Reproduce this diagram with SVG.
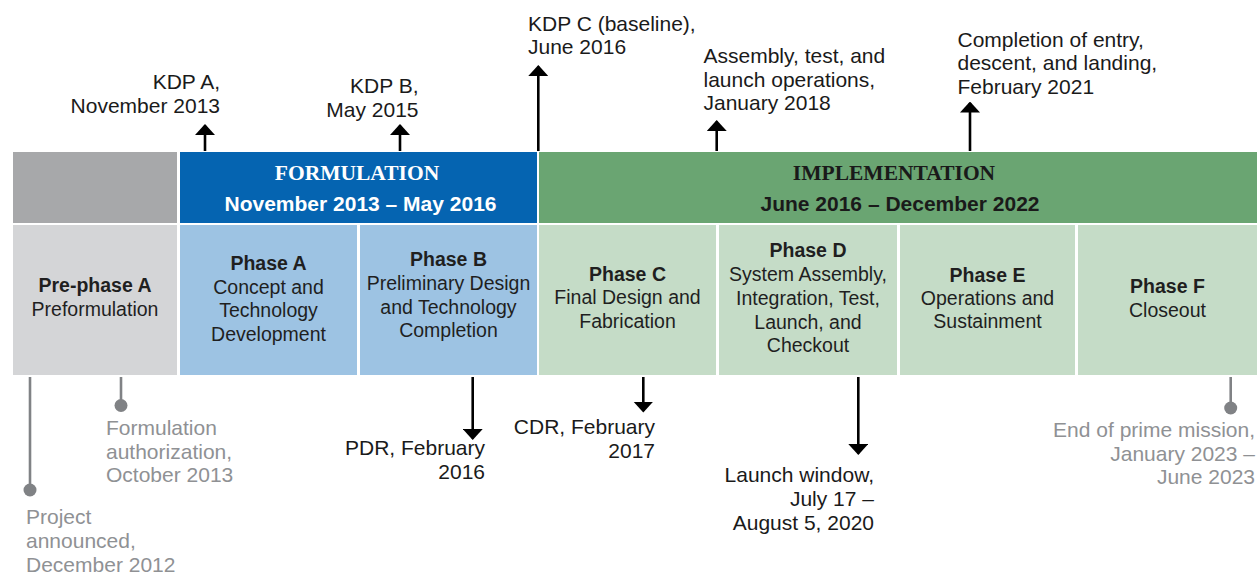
<svg xmlns="http://www.w3.org/2000/svg" width="1259" height="584" viewBox="0 0 1259 584">
<style>
text{font-family:"Liberation Sans",Arial,sans-serif;}
.ph{font-size:19.5px;fill:#1f1f1f;text-anchor:middle;}
.pt{font-weight:bold;}
.an{font-size:21px;fill:#1a1a1a;}
.gr{font-size:21px;fill:#8f9194;}
.hs{font-family:"Liberation Serif","Times New Roman",serif;font-weight:bold;font-size:21.5px;text-anchor:middle;}
.hd{font-weight:bold;font-size:21px;text-anchor:middle;}
.ar{stroke:#000;stroke-width:2.6;fill:none;}
.gl{stroke:#808285;stroke-width:2.6;fill:none;}
</style>
<defs>
<marker id="ah" viewBox="0 0 11 20" markerUnits="userSpaceOnUse" markerWidth="11" markerHeight="20" refX="9.5" refY="10" orient="auto">
<path d="M0,0 L11,10 L0,20 Z" fill="#000"/>
</marker>
</defs>
<rect width="1259" height="584" fill="#fff"/>

<g id="header-pre">
<rect x="13" y="152" width="164" height="71" fill="#a7a8aa"/>
</g>
<g id="header-formulation">
<rect x="180" y="152" width="357" height="71" fill="#0564b1"/>
<text class="hs" x="357" y="180" fill="#fff">FORMULATION</text>
<text class="hd" x="360.5" y="211" fill="#fff">November 2013 – May 2016</text>
</g>
<g id="header-implementation">
<rect x="539" y="152" width="718" height="71" fill="#6aa572"/>
<text class="hs" x="894" y="180" fill="#1a1a1a">IMPLEMENTATION</text>
<text class="hd" x="900" y="211" fill="#1a1a1a">June 2016 – December 2022</text>
</g>

<g id="pre-phase-a">
<rect x="13" y="225" width="164" height="150" fill="#d4d5d7"/>
<text class="ph pt" x="95" y="292">Pre-phase A</text>
<text class="ph" x="95" y="316">Preformulation</text>
</g>
<g id="phase-a">
<rect x="180" y="225" width="177" height="150" fill="#9dc3e3"/>
<text class="ph pt" x="268.5" y="270">Phase A</text>
<text class="ph" x="268.5" y="293.5">Concept and</text>
<text class="ph" x="268.5" y="317">Technology</text>
<text class="ph" x="268.5" y="340.5">Development</text>
</g>
<g id="phase-b">
<rect x="360" y="225" width="177" height="150" fill="#9dc3e3"/>
<text class="ph pt" x="448.5" y="266">Phase B</text>
<text class="ph" x="448.5" y="290">Preliminary Design</text>
<text class="ph" x="448.5" y="313.5">and Technology</text>
<text class="ph" x="448.5" y="337">Completion</text>
</g>
<g id="phase-c">
<rect x="539" y="225" width="177" height="150" fill="#c5dcc7"/>
<text class="ph pt" x="627.5" y="281">Phase C</text>
<text class="ph" x="627.5" y="304">Final Design and</text>
<text class="ph" x="627.5" y="327.5">Fabrication</text>
</g>
<g id="phase-d">
<rect x="719" y="225" width="178" height="150" fill="#c5dcc7"/>
<text class="ph pt" x="808" y="257">Phase D</text>
<text class="ph" x="808" y="281">System Assembly,</text>
<text class="ph" x="808" y="305">Integration, Test,</text>
<text class="ph" x="808" y="328.5">Launch, and</text>
<text class="ph" x="808" y="352">Checkout</text>
</g>
<g id="phase-e">
<rect x="900" y="225" width="175" height="150" fill="#c5dcc7"/>
<text class="ph pt" x="987.5" y="282">Phase E</text>
<text class="ph" x="987.5" y="305">Operations and</text>
<text class="ph" x="987.5" y="328">Sustainment</text>
</g>
<g id="phase-f">
<rect x="1078" y="225" width="179" height="150" fill="#c5dcc7"/>
<text class="ph pt" x="1167.5" y="293">Phase F</text>
<text class="ph" x="1167.5" y="316.5">Closeout</text>
</g>

<g id="connectors">
<line class="ar" x1="205" y1="151" x2="205" y2="125.5" marker-end="url(#ah)"/>
<line class="ar" x1="400" y1="151" x2="400" y2="125.5" marker-end="url(#ah)"/>
<line class="ar" x1="538.3" y1="151" x2="538.3" y2="66.5" marker-end="url(#ah)"/>
<line class="ar" x1="716.7" y1="151" x2="716.7" y2="121.5" marker-end="url(#ah)"/>
<line class="ar" x1="970" y1="151" x2="970" y2="103" marker-end="url(#ah)"/>
<line class="ar" x1="472.7" y1="377" x2="472.7" y2="438.5" marker-end="url(#ah)"/>
<line class="ar" x1="643.3" y1="377" x2="643.3" y2="411" marker-end="url(#ah)"/>
<line class="ar" x1="858.3" y1="377" x2="858.3" y2="453.5" marker-end="url(#ah)"/>
<line class="gl" x1="30" y1="377" x2="30" y2="490"/>
<circle cx="30" cy="490" r="6.5" fill="#808285"/>
<line class="gl" x1="121" y1="377" x2="121" y2="405"/>
<circle cx="121" cy="405.5" r="6.5" fill="#808285"/>
<line class="gl" x1="1230.7" y1="377" x2="1230.7" y2="408"/>
<circle cx="1230.7" cy="408" r="6.5" fill="#808285"/>
</g>

<g id="kdp-a">
<text class="an" x="220" y="89" text-anchor="end">KDP A,</text>
<text class="an" x="220" y="112.5" text-anchor="end">November 2013</text>
</g>
<g id="kdp-b">
<text class="an" x="418.5" y="93" text-anchor="end">KDP B,</text>
<text class="an" x="418.5" y="116.5" text-anchor="end">May 2015</text>
</g>
<g id="kdp-c">
<text class="an" x="528" y="30.5">KDP C (baseline),</text>
<text class="an" x="528" y="53.5">June 2016</text>
</g>
<g id="atlo">
<text class="an" x="703.5" y="63">Assembly, test, and</text>
<text class="an" x="703.5" y="86.5">launch operations,</text>
<text class="an" x="703.5" y="110">January 2018</text>
</g>
<g id="edl">
<text class="an" x="957.5" y="46.5">Completion of entry,</text>
<text class="an" x="957.5" y="70">descent, and landing,</text>
<text class="an" x="957.5" y="93.5">February 2021</text>
</g>
<g id="pdr">
<text class="an" x="485" y="455" text-anchor="end">PDR, February</text>
<text class="an" x="485" y="478.5" text-anchor="end">2016</text>
</g>
<g id="cdr">
<text class="an" x="655" y="434" text-anchor="end">CDR, February</text>
<text class="an" x="655" y="457.5" text-anchor="end">2017</text>
</g>
<g id="launch">
<text class="an" x="874" y="482" text-anchor="end">Launch window,</text>
<text class="an" x="874" y="505.5" text-anchor="end">July 17 –</text>
<text class="an" x="874" y="529.5" text-anchor="end">August 5, 2020</text>
</g>
<g id="formulation-auth">
<text class="gr" x="106" y="435">Formulation</text>
<text class="gr" x="106" y="458.5">authorization,</text>
<text class="gr" x="106" y="482">October 2013</text>
</g>
<g id="project-announced">
<text class="gr" x="26" y="524">Project</text>
<text class="gr" x="26" y="548">announced,</text>
<text class="gr" x="26" y="572">December 2012</text>
</g>
<g id="end-prime">
<text class="gr" x="1255" y="437" text-anchor="end">End of prime mission,</text>
<text class="gr" x="1255" y="460.5" text-anchor="end">January 2023 –</text>
<text class="gr" x="1255" y="484" text-anchor="end">June 2023</text>
</g>
</svg>
